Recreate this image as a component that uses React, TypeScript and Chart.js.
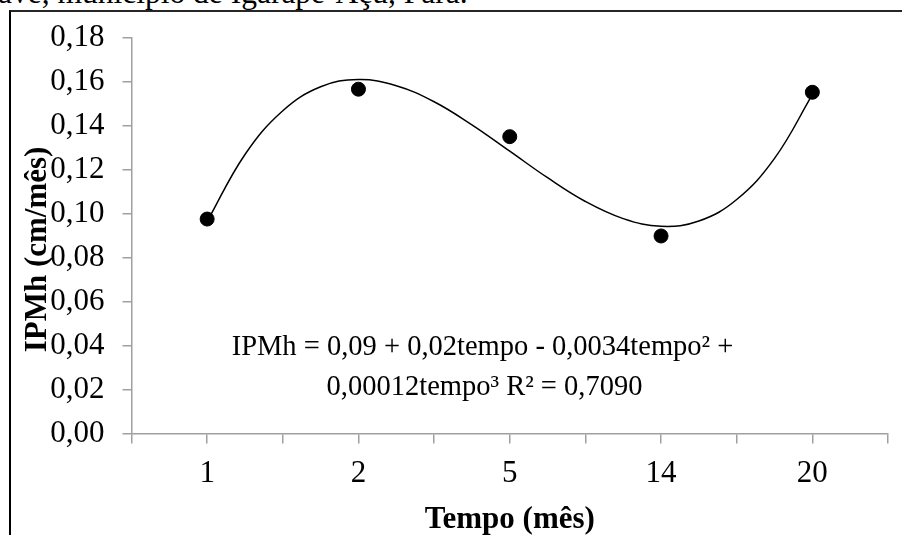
import React, { useEffect, useRef } from 'react';
import { Chart, registerables } from 'chart.js';

Chart.register(...registerables);

const SERIF = "'Liberation Serif', 'Times New Roman', serif";

// Categories (x tick labels) and observed values
const xLabels = ['1', '2', '5', '14', '20'];
const ipmh = [0.0976, 0.1567, 0.1351, 0.0899, 0.1553];

// Polynomial trend line (x in category positions)
const trendX = [1, 1.25, 1.5, 1.75, 2, 2.25, 2.5, 2.75, 3, 3.25, 3.5, 3.75, 4, 4.25, 4.5, 4.75, 5];
const trendY = [0.0965, 0.127, 0.1469, 0.1578, 0.1611, 0.1583, 0.151, 0.1405, 0.1285, 0.1164, 0.1056, 0.0978, 0.0943, 0.0967, 0.1065, 0.1252, 0.1542];

// Y tick values
const yTicks = [0, 0.02, 0.04, 0.06, 0.08, 0.1, 0.12, 0.14, 0.16, 0.18];

const topText = 'ave, município de Igarapé-Açu, Pará.';
const xTitle = 'Tempo (mês)';
const yTitle = 'IPMh (cm/mês)';
const eqLine1 = 'IPMh = 0,09 + 0,02tempo - 0,0034tempo² +';
const eqLine2 = '0,00012tempo³ R² = 0,7090';

export default function App() {
  const ref = useRef<HTMLCanvasElement>(null);

  useEffect(() => {
    if (!ref.current) return;
    const annot = {
      id: 'annot',
      afterDraw(chart: any) {
        const { ctx, scales } = chart;
        const x = scales.x;
        const y = scales.y;
        ctx.save();
        ctx.fillStyle = '#000';
        ctx.textAlign = 'center';
        ctx.textBaseline = 'alphabetic';
        // equation
        ctx.font = `28.5px ${SERIF}`;
        const ex = x.getPixelForValue(2.82);
        ctx.fillText(eqLine1, ex, y.getPixelForValue(0.0357));
        ctx.fillText(eqLine2, ex + 2, y.getPixelForValue(0.0175));
        // x title
        ctx.font = `bold 31px ${SERIF}`;
        ctx.fillText(xTitle, (x.left + x.right) / 2, 528);
        // y title
        ctx.translate(46, 249.5);
        ctx.rotate(-Math.PI / 2);
        ctx.fillText(yTitle, 0, 0);
        ctx.restore();
      },
    };

    const chart = new Chart(ref.current, {
      type: 'scatter',
      data: {
        datasets: [
          {
            type: 'scatter',
            data: ipmh.map((v, i) => ({ x: i + 1, y: v })),
            backgroundColor: '#000',
            borderColor: '#000',
            pointRadius: 7,
            pointHoverRadius: 7,
            order: 0,
          },
          {
            type: 'line',
            data: trendX.map((v, i) => ({ x: v, y: trendY[i] })),
            borderColor: '#000',
            borderWidth: 1.5,
            pointRadius: 0,
            tension: 0.4,
            fill: false,
            order: 1,
          } as any,
        ],
      },
      options: {
        responsive: false,
        animation: false,
        devicePixelRatio: 1,
        layout: { padding: { left: 0, top: 38, right: 14, bottom: 0 } },
        plugins: { legend: { display: false }, tooltip: { enabled: false } },
        scales: {
          x: {
            type: 'linear',
            min: 0.5,
            max: 5.5,
            afterBuildTicks: (s: any) => {
              const t = [];
              for (let i = 0; i <= 10; i++) t.push({ value: 0.5 + i * 0.5 });
              s.ticks = t;
            },
            afterFit: (s: any) => {
              s.height = 101.5;
            },
            grid: {
              drawOnChartArea: false,
              drawTicks: true,
              tickLength: 10,
              color: '#a0a0a0',
              lineWidth: 1.5,
            },
            border: { color: '#a0a0a0', width: 1.5 },
            ticks: {
              autoSkip: false,
              maxRotation: 0,
              padding: 12,
              color: '#000',
              font: { family: SERIF, size: 31 },
              callback: (v: any) => {
                const n = Number(v);
                return Number.isInteger(n) ? xLabels[n - 1] : '';
              },
            },
          },
          y: {
            type: 'linear',
            min: 0,
            max: 0.18,
            afterBuildTicks: (s: any) => {
              s.ticks = yTicks.map((v) => ({ value: v }));
            },
            afterFit: (s: any) => {
              s.width = 131.5;
            },
            grid: {
              drawOnChartArea: false,
              drawTicks: true,
              tickLength: 9,
              color: '#a0a0a0',
              lineWidth: 1.5,
            },
            border: { color: '#a0a0a0', width: 1.5 },
            ticks: {
              padding: 18,
              color: '#000',
              font: { family: SERIF, size: 31 },
              callback: (v: any) => Number(v).toFixed(2).replace('.', ','),
            },
          },
        },
      },
      plugins: [annot],
    });
    return () => chart.destroy();
  }, []);

  return (
    <div
      style={{
        position: 'fixed',
        left: 0,
        top: 0,
        width: 902,
        height: 535,
        overflow: 'hidden',
        background: '#fff',
      }}
    >
      <div
        style={{
          position: 'absolute',
          left: -2,
          top: -23,
          fontFamily: SERIF,
          fontSize: 31.5,
          lineHeight: '31px',
          whiteSpace: 'nowrap',
          color: '#000',
        }}
      >
        {topText}
      </div>
      <div
        style={{
          position: 'absolute',
          left: 9,
          top: 10,
          width: 1000,
          height: 1000,
          borderTop: '2px solid #262626',
          borderLeft: '2px solid #000',
        }}
      />
      <canvas
        ref={ref}
        width={902}
        height={535}
        style={{ position: 'absolute', left: 0, top: 0, width: 902, height: 535 }}
      />
    </div>
  );
}
